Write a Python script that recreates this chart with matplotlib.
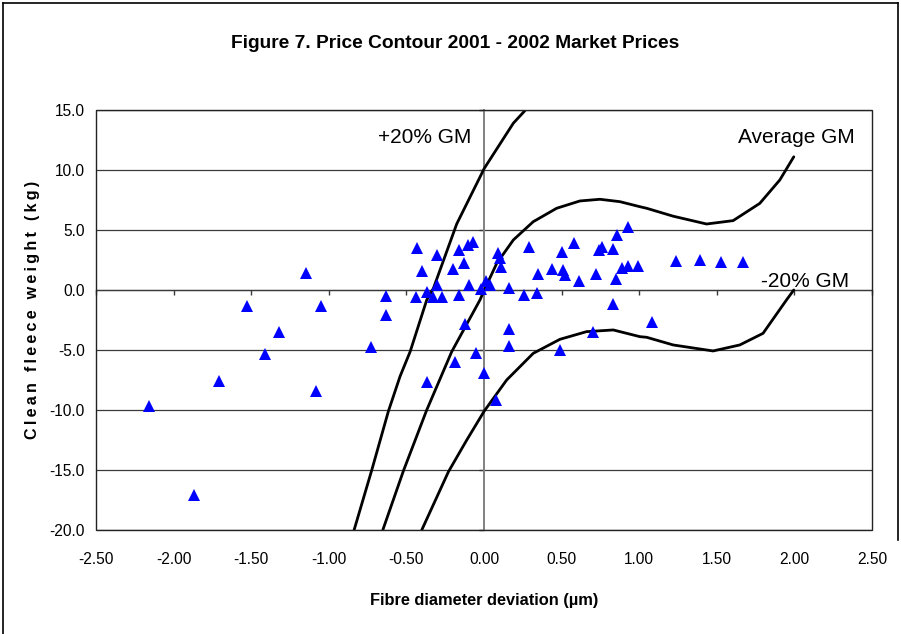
import matplotlib
matplotlib.use("Agg")
import matplotlib.pyplot as plt
from matplotlib import font_manager
from matplotlib.lines import Line2D

names = {f.name for f in font_manager.fontManager.ttflist}
NARROW = "Liberation Sans Narrow" if "Liberation Sans Narrow" in names else None
REG = "Liberation Sans"

# ---- data ----
fd_dev = [-2.16, -1.87, -1.71, -1.53, -1.41, -1.32, -1.15, -1.08, -1.05, -0.73,
          -0.63, -0.63, -0.43, -0.40, -0.44, -0.37, -0.37, -0.33, -0.30, -0.30,
          -0.27, -0.20, -0.19, -0.16, -0.16, -0.13, -0.12, -0.10, -0.095, -0.07,
          -0.05, -0.02, 0.00, 0.01, 0.04, 0.08, 0.09, 0.10, 0.11, 0.16,
          0.16, 0.16, 0.26, 0.29, 0.34, 0.35, 0.44, 0.50, 0.49, 0.51,
          0.52, 0.58, 0.61, 0.70, 0.72, 0.74, 0.76, 0.83, 0.83, 0.85,
          0.86, 0.89, 0.93, 0.93, 0.99, 1.08, 1.24, 1.39, 1.53, 1.67]
cfw = [-9.7, -17.1, -7.6, -1.3, -5.3, -3.5, 1.4, -8.4, -1.3, -4.75,
       -0.5, -2.1, 3.47, 1.58, -0.56, -0.14, -7.7, -0.56, 2.9, 0.42,
       -0.56, 1.72, -5.97, 3.33, -0.42, 2.22, -2.83, 3.75, 0.42, 4.03,
       -5.28, 0.05, -6.9, 0.75, 0.45, -9.2, 3.06, 2.64, 1.89, 0.14,
       -3.28, -4.64, -0.42, 3.6, -0.28, 1.31, 1.75, 3.19, -5.0, 1.67,
       1.25, 3.89, 0.78, -3.53, 1.31, 3.33, 3.61, 3.42, -1.2, 0.92,
       4.58, 1.86, 5.22, 2.03, 2.03, -2.65, 2.4, 2.5, 2.36, 2.36]

plus20_x = [-0.837, -0.723, -0.616, -0.541, -0.476, -0.369, -0.326, -0.176, 0.002, 0.189, 0.264]
plus20_y = [-20.0, -15.0, -10.1, -7.2, -5.14, -0.83, 0.14, 5.5, 10.14, 13.9, 14.95]

avg_x = [-0.652, -0.52, -0.369, -0.208, -0.026, 0.002, 0.082, 0.189, 0.317, 0.468,
         0.618, 0.747, 0.876, 1.005, 1.048, 1.219, 1.434, 1.605, 1.777, 1.906, 1.996]
avg_y = [-20.0, -15.1, -10.0, -5.14, -0.83, 0.0, 2.22, 4.17, 5.69, 6.81,
         7.42, 7.56, 7.36, 6.94, 6.81, 6.15, 5.5, 5.78, 7.22, 9.17, 11.1]

minus20_x = [-0.401, -0.229, -0.111, 0.002, 0.146, 0.317, 0.489, 0.661, 0.833, 1.005,
             1.048, 1.219, 1.476, 1.648, 1.798, 1.949, 1.996]
minus20_y = [-20.0, -15.14, -12.5, -10.08, -7.5, -5.28, -4.11, -3.47, -3.33, -3.89,
             -3.94, -4.58, -5.08, -4.58, -3.61, -0.83, 0.0]

x_ticks = [-2.5, -2.0, -1.5, -1.0, -0.5, 0.0, 0.5, 1.0, 1.5, 2.0, 2.5]
y_ticks = [-20, -15, -10, -5, 0, 5, 10, 15]

labels = ["+20% GM", "Average GM", "-20% GM"]
label_x = [-0.683, 1.636, 1.784]
label_y = [12.67, 12.67, 0.67]

title = "Figure 7. Price Contour 2001 - 2002 Market Prices"
xlabel = "Fibre diameter deviation (µm)"
ylabel = "Clean fleece weight (kg)"

# ---- figure ----
W, H, DPI = 901, 634, 100
fig = plt.figure(figsize=(W / DPI, H / DPI), dpi=DPI)
px = 72.0 / DPI  # points per pixel

if NARROW:
    tick_font, tick_size = NARROW, 13.4
    title_font, title_size = NARROW, 15
    xl_font, xl_size = NARROW, 13
else:
    tick_font, tick_size = REG, 11.2
    title_font, title_size = REG, 13.8
    xl_font, xl_size = REG, 11.8

L, R, T, B = 96, 872, 110, 530
ax = fig.add_axes([L / W, 1 - B / H, (R - L) / W, (B - T) / H])
ax.set_xlim(-2.5, 2.5)
ax.set_ylim(-20, 15)

# gridlines
for yv in y_ticks:
    ax.axhline(yv, color="#3a3a3a", lw=0.9, zorder=1)

# spines: axes cross at 0
for s in ["top", "right"]:
    ax.spines[s].set_visible(False)
ax.spines["bottom"].set_position(("data", 0))
ax.spines["left"].set_position(("data", 0))
ax.spines["bottom"].set_color("#3a3a3a")
ax.spines["bottom"].set_linewidth(0.9)
ax.spines["left"].set_color("#808080")
ax.spines["left"].set_linewidth(1.4)

# plot-area border
ax.add_patch(plt.Rectangle((0, 0), 1, 1, transform=ax.transAxes, fill=False,
                           edgecolor="#222222", lw=1.0, zorder=5, clip_on=False))

ax.set_xticks(x_ticks)
ax.set_yticks(y_ticks)
ax.set_xticklabels([f"{v:.2f}" for v in x_ticks])
ax.set_yticklabels([f"{v:.1f}" for v in y_ticks])
tick_len = 5
ax.tick_params(axis="x", direction="out", length=tick_len * px, width=1.0, color="#3a3a3a",
               pad=(B - 290 + 22 - tick_len) * px, labelsize=tick_size)
ax.tick_params(axis="y", direction="out", length=tick_len * px, width=1.0, color="#3a3a3a",
               pad=(484 - 85 - tick_len) * px, labelsize=tick_size)
for lab in ax.get_xticklabels() + ax.get_yticklabels():
    lab.set_fontfamily(tick_font)

# curves
for cx, cy in [(plus20_x, plus20_y), (avg_x, avg_y), (minus20_x, minus20_y)]:
    ax.plot(cx, cy, color="black", lw=2.0, zorder=4, solid_capstyle="round")

# data points
ax.plot(fd_dev, cfw, linestyle="none", marker="^", markersize=8.5,
        color="#0000FF", markeredgewidth=0, zorder=6, clip_on=False)

# curve labels
for t, lx, ly in zip(labels, label_x, label_y):
    ax.text(lx, ly, t, fontsize=15, family=REG, ha="left", va="center", zorder=7)

# titles
fig.text(455 / W, 1 - 43 / H, title, fontsize=title_size, fontweight="bold", family=title_font,
         ha="center", va="center")
fig.text(484 / W, 1 - 600 / H, xlabel, fontsize=xl_size, fontweight="bold", family=xl_font,
         ha="center", va="center")
ylab_spaced = "\u2009".join(list(ylabel))
fig.text(33 / W, 1 - 310 / H, ylab_spaced, fontsize=11.6, fontweight="bold",
         family=[REG, "DejaVu Sans"], rotation=90, ha="center", va="center")

# outer frame
fig.add_artist(Line2D([3 / W, 3 / W], [0, 1 - 3 / H], color="black", lw=1.2))
fig.add_artist(Line2D([3 / W, 898 / W], [1 - 3 / H, 1 - 3 / H], color="black", lw=1.2))
fig.add_artist(Line2D([898 / W, 898 / W], [1 - 3 / H, 1 - 540 / H], color="black", lw=1.2))

fig.savefig("out.png", dpi=DPI)
